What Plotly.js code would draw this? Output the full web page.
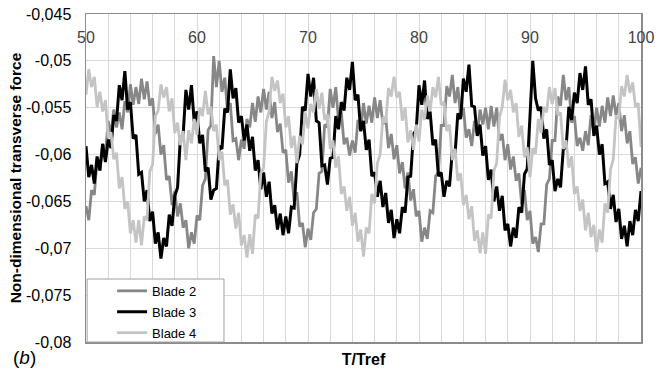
<!DOCTYPE html>
<html>
<head>
<meta charset="utf-8">
<script src="https://cdn.plot.ly/plotly-3.0.1.min.js"></script>
<style>html,body{margin:0;padding:0;background:#fff;}#chart{width:665px;height:371px;}</style>
</head>
<body>
<div id="chart"></div>
<script>
// Sampling of the time axis (T/Tref)
const tStart = 50;
const tStep = 0.25;

// Blade 2 (dark grey)
const blade2 = [
-0.0655,-0.0670,-0.0638,-0.0643,-0.0605,-0.0617,-0.0588,-0.0599,-0.0564,-0.0579,-0.0552,-0.0571,
-0.0555,-0.0573,-0.0543,-0.0555,-0.0525,-0.0547,-0.0528,-0.0546,-0.0519,-0.0541,-0.0522,-0.0548,
-0.0540,-0.0578,-0.0568,-0.0600,-0.0590,-0.0627,-0.0623,-0.0654,-0.0639,-0.0666,-0.0652,-0.0678,
-0.0670,-0.0700,-0.0683,-0.0695,-0.0665,-0.0670,-0.0633,-0.0626,-0.0574,-0.0569,-0.0495,-0.0528,
-0.0500,-0.0533,-0.0518,-0.0553,-0.0545,-0.0585,-0.0583,-0.0606,-0.0584,-0.0594,-0.0562,-0.0571,
-0.0545,-0.0565,-0.0538,-0.0555,-0.0530,-0.0552,-0.0533,-0.0561,-0.0544,-0.0576,-0.0567,-0.0598,
-0.0595,-0.0630,-0.0618,-0.0650,-0.0640,-0.0677,-0.0673,-0.0699,-0.0679,-0.0691,-0.0662,-0.0658,
-0.0620,-0.0618,-0.0568,-0.0570,-0.0530,-0.0550,-0.0528,-0.0564,-0.0554,-0.0589,-0.0582,-0.0601,
-0.0585,-0.0598,-0.0563,-0.0575,-0.0545,-0.0567,-0.0548,-0.0566,-0.0539,-0.0561,-0.0542,-0.0568,
-0.0560,-0.0593,-0.0578,-0.0605,-0.0590,-0.0620,-0.0608,-0.0636,-0.0619,-0.0649,-0.0637,-0.0666,
-0.0660,-0.0693,-0.0678,-0.0690,-0.0660,-0.0662,-0.0623,-0.0619,-0.0569,-0.0569,-0.0527,-0.0538,
-0.0515,-0.0545,-0.0528,-0.0560,-0.0550,-0.0582,-0.0573,-0.0591,-0.0564,-0.0579,-0.0552,-0.0568,
-0.0550,-0.0573,-0.0548,-0.0570,-0.0550,-0.0585,-0.0578,-0.0606,-0.0589,-0.0616,-0.0602,-0.0628,
-0.0620,-0.0653,-0.0638,-0.0670,-0.0660,-0.0695,-0.0688,-0.0704,-0.0674,-0.0674,-0.0632,-0.0626,
-0.0585,-0.0585,-0.0538,-0.0548,-0.0515,-0.0542,-0.0528,-0.0566,-0.0559,-0.0591,-0.0582,-0.0596,
-0.0575,-0.0590,-0.0558,-0.0575,-0.0550,-0.0570,-0.0548,-0.0566,-0.0539,-0.0559,-0.0537,-0.0558,
-0.0545,-0.0575,-0.0558,-0.0588,-0.0575,-0.0610,-0.0603,-0.0631,-0.0614
];

// Blade 3 (black)
const blade3 = [
-0.0591,-0.0624,-0.0611,-0.0631,-0.0602,-0.0617,-0.0589,-0.0608,-0.0584,-0.0593,-0.0558,-0.0564,
-0.0526,-0.0542,-0.0511,-0.0552,-0.0544,-0.0583,-0.0579,-0.0621,-0.0619,-0.0650,-0.0638,-0.0671,
-0.0661,-0.0695,-0.0683,-0.0711,-0.0689,-0.0698,-0.0664,-0.0676,-0.0644,-0.0635,-0.0583,-0.0579,
-0.0531,-0.0552,-0.0526,-0.0565,-0.0554,-0.0588,-0.0579,-0.0618,-0.0614,-0.0648,-0.0638,-0.0636,
-0.0591,-0.0594,-0.0551,-0.0555,-0.0509,-0.0540,-0.0529,-0.0566,-0.0559,-0.0585,-0.0568,-0.0596,
-0.0581,-0.0617,-0.0606,-0.0637,-0.0619,-0.0645,-0.0629,-0.0663,-0.0654,-0.0680,-0.0663,-0.0686,
-0.0666,-0.0684,-0.0656,-0.0657,-0.0609,-0.0600,-0.0549,-0.0553,-0.0514,-0.0538,-0.0518,-0.0564,
-0.0566,-0.0612,-0.0611,-0.0632,-0.0604,-0.0603,-0.0559,-0.0573,-0.0544,-0.0553,-0.0518,-0.0531,
-0.0501,-0.0542,-0.0536,-0.0575,-0.0564,-0.0595,-0.0584,-0.0623,-0.0619,-0.0645,-0.0628,-0.0656,
-0.0641,-0.0673,-0.0659,-0.0689,-0.0669,-0.0684,-0.0656,-0.0662,-0.0624,-0.0623,-0.0578,-0.0574,
-0.0526,-0.0547,-0.0521,-0.0562,-0.0554,-0.0590,-0.0584,-0.0623,-0.0619,-0.0645,-0.0628,-0.0634,
-0.0596,-0.0599,-0.0556,-0.0562,-0.0519,-0.0533,-0.0504,-0.0548,-0.0549,-0.0580,-0.0568,-0.0601,
-0.0591,-0.0627,-0.0616,-0.0650,-0.0634,-0.0660,-0.0644,-0.0681,-0.0674,-0.0698,-0.0678,-0.0689,
-0.0656,-0.0662,-0.0621,-0.0615,-0.0559,-0.0500,-0.0540,-0.0553,-0.0549,-0.0583,-0.0573,-0.0611,
-0.0606,-0.0639,-0.0626,-0.0635,-0.0594,-0.0593,-0.0549,-0.0563,-0.0534,-0.0545,-0.0513,-0.0531,
-0.0506,-0.0547,-0.0541,-0.0580,-0.0569,-0.0600,-0.0589,-0.0631,-0.0629,-0.0658,-0.0643,-0.0672,
-0.0658,-0.0690,-0.0676,-0.0698,-0.0671,-0.0686,-0.0659,-0.0671,-0.0639
];

// Blade 4 (light grey)
const blade4 = [
-0.0536,-0.0509,-0.0528,-0.0517,-0.0549,-0.0533,-0.0554,-0.0542,-0.0582,-0.0576,-0.0605,-0.0598,
-0.0636,-0.0624,-0.0658,-0.0650,-0.0684,-0.0670,-0.0694,-0.0670,-0.0697,-0.0666,-0.0670,-0.0618,
-0.0611,-0.0559,-0.0553,-0.0525,-0.0539,-0.0528,-0.0554,-0.0540,-0.0577,-0.0566,-0.0590,-0.0575,
-0.0606,-0.0574,-0.0588,-0.0562,-0.0579,-0.0550,-0.0559,-0.0532,-0.0557,-0.0549,-0.0575,-0.0568,
-0.0606,-0.0597,-0.0633,-0.0627,-0.0664,-0.0653,-0.0679,-0.0662,-0.0697,-0.0686,-0.0710,-0.0685,
-0.0706,-0.0664,-0.0668,-0.0620,-0.0614,-0.0565,-0.0554,-0.0517,-0.0532,-0.0521,-0.0545,-0.0535,
-0.0571,-0.0559,-0.0593,-0.0580,-0.0609,-0.0580,-0.0589,-0.0555,-0.0572,-0.0546,-0.0555,-0.0530,
-0.0551,-0.0534,-0.0563,-0.0557,-0.0594,-0.0585,-0.0614,-0.0602,-0.0642,-0.0634,-0.0660,-0.0645,
-0.0676,-0.0662,-0.0693,-0.0680,-0.0709,-0.0678,-0.0684,-0.0642,-0.0652,-0.0609,-0.0600,-0.0560,
-0.0566,-0.0529,-0.0538,-0.0517,-0.0539,-0.0533,-0.0564,-0.0550,-0.0587,-0.0574,-0.0595,-0.0568,
-0.0586,-0.0552,-0.0563,-0.0537,-0.0554,-0.0528,-0.0539,-0.0517,-0.0547,-0.0544,-0.0575,-0.0568,
-0.0606,-0.0594,-0.0628,-0.0620,-0.0654,-0.0643,-0.0669,-0.0655,-0.0692,-0.0681,-0.0705,-0.0683,
-0.0706,-0.0664,-0.0668,-0.0617,-0.0609,-0.0560,-0.0549,-0.0520,-0.0542,-0.0531,-0.0555,-0.0545,
-0.0581,-0.0569,-0.0603,-0.0592,-0.0624,-0.0593,-0.0599,-0.0562,-0.0577,-0.0549,-0.0555,-0.0528,
-0.0546,-0.0529,-0.0558,-0.0555,-0.0594,-0.0585,-0.0614,-0.0602,-0.0642,-0.0634,-0.0660,-0.0648,
-0.0681,-0.0662,-0.0688,-0.0675,-0.0704,-0.0680,-0.0694,-0.0652,-0.0662,-0.0616,-0.0605,-0.0560,
-0.0561,-0.0527,-0.0538,-0.0515,-0.0534,-0.0523,-0.0549,-0.0545,-0.0592
];

const seriesNames = ['Blade 2', 'Blade 3', 'Blade 4'];
const seriesColors = ['#878787', '#000000', '#c4c4c4'];

const yTickVals = [-0.08, -0.075, -0.07, -0.065, -0.06, -0.055, -0.05, -0.045];
const yTickText = ['-0,08', '-0,075', '-0,07', '-0,065', '-0,06', '-0,055', '-0,05', '-0,045'];

const tValues = blade2.map((_, i) => tStart + i * tStep);

const allSeries = [blade2, blade3, blade4];
const traces = allSeries.map((ys, k) => ({
  type: 'scatter',
  mode: 'lines',
  name: seriesNames[k],
  legendgroup: 'g' + k,
  x: tValues,
  y: ys,
  xaxis: k === 2 ? 'x2' : 'x',
  line: {color: seriesColors[k], width: k === 1 ? 3 : 2.8}
}));

const gridCol = '#d9d9d9';
const axisCol = '#8c8c8c';

const layout = {
  width: 665, height: 371,
  margin: {l: 86, r: 24, t: 14, b: 29},
  paper_bgcolor: '#ffffff', plot_bgcolor: '#ffffff',
  font: {family: 'Liberation Sans, Arial, sans-serif', size: 16, color: '#000'},
  showlegend: true,
  legend: {
    x: 0.047, y: -0.018, xanchor: 'left', yanchor: 'bottom',
    bgcolor: 'rgba(0,0,0,0)', borderwidth: 0,
    font: {size: 13, color: '#000'}, tracegroupgap: 1
  },
  xaxis: {
    range: [50, 100], side: 'bottom', showticklabels: false, ticks: '',
    tick0: 50, dtick: 10, showgrid: true, gridcolor: gridCol, gridwidth: 1,
    minor: {dtick: 2, showgrid: true, gridcolor: gridCol, gridwidth: 1},
    showline: true, linecolor: axisCol, linewidth: 1.5, zeroline: false,
    title: {text: '<b>T/Tref</b>', standoff: 11, font: {size: 16}}
  },
  xaxis2: {
    overlaying: 'x', side: 'top', range: [50, 100], tick0: 50, dtick: 10,
    ticklabelposition: 'inside', ticklabeloverflow: 'allow', ticks: '',
    ticklabelstandoff: 18,
    showgrid: false, showline: true, linecolor: axisCol, linewidth: 1.5, zeroline: false,
    tickfont: {size: 16}
  },
  yaxis: {
    range: [-0.08, -0.045], tickvals: yTickVals, ticktext: yTickText, ticks: '',
    ticklabelstandoff: 10,
    showgrid: true, gridcolor: gridCol, gridwidth: 1,
    showline: true, mirror: true, linecolor: axisCol, linewidth: 1.5, zeroline: false,
    tickfont: {size: 16},
    title: {text: '<b>Non-dimensional transverse force</b>', standoff: 0, font: {size: 15.5}}
  },
  shapes: [{
    type: 'rect', xref: 'paper', yref: 'paper', layer: 'above',
    x0: 0.002, x1: 0.2486, y0: 0, y1: 0.192,
    fillcolor: '#ffffff', line: {color: '#a0a0a0', width: 1}
  }],
  annotations: [{
    text: '(<i>b</i>)', xref: 'paper', yref: 'paper', x: -0.11, y: -0.046,
    xanchor: 'center', yanchor: 'middle', showarrow: false, font: {size: 19, color: '#000'}
  }]
};

Plotly.newPlot('chart', traces, layout, {displayModeBar: false, staticPlot: true});
</script>
</body>
</html>
